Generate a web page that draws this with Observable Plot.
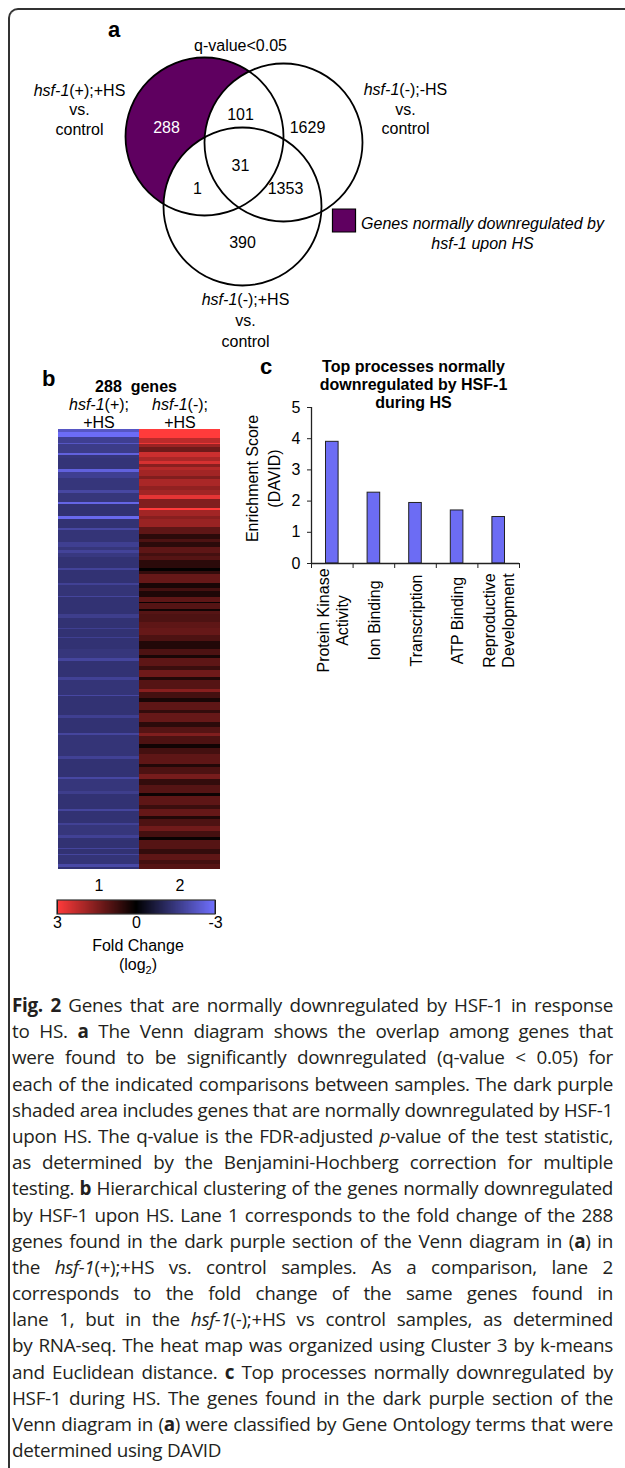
<!DOCTYPE html>
<html>
<head>
<meta charset="utf-8">
<script src="https://cdn.jsdelivr.net/npm/d3@7"></script>
<script src="https://cdn.jsdelivr.net/npm/@observablehq/plot@0.6"></script>
<style>
  html, body { margin: 0; padding: 0; background: #fff; }
  body { width: 625px; height: 1468px; overflow: hidden; position: relative; font-family: "Liberation Sans", Arial, sans-serif; color: #000; }
  #frame { position: absolute; left: 8px; top: 8px; width: 700px; height: 1500px; border-left: 2px solid #333; border-top: 2px solid #333; border-top-left-radius: 10px; box-sizing: border-box; }
  .abs { position: absolute; }
  .panel { position: absolute; font-weight: bold; font-size: 22px; line-height: 22px; }
  #foldlabel { position: absolute; left: 38px; top: 936px; width: 200px; text-align: center; font-size: 16px; line-height: 19px; }
  #caption { position: absolute; left: 12px; top: 992px; width: 601px; font-family: "Open Sans", sans-serif; font-size: 17px; letter-spacing: -0.3px; color: #231f20; }
  #caption div { white-space: nowrap; height: 26.2px; line-height: 26.2px; }
</style>
</head>
<body>
<div id="frame"></div>
<div class="panel" style="left:108px; top:19px;">a</div>
<div class="panel" style="left:42px; top:368px;">b</div>
<div class="panel" style="left:260px; top:356px;">c</div>
<div id="venn" class="abs" style="left:0; top:0; width:625px;"></div>
<div id="heat" class="abs" style="left:0; top:360px; width:240px;"></div>
<div id="bars" class="abs" style="left:230px; top:340px; width:320px;"></div>
<div id="ramp" class="abs" style="left:0; top:890px; width:240px;"></div>
<div id="foldlabel">Fold Change<br>(log<sub style="font-size:11px">2</sub>)</div>
<div id="caption"></div>
<script>
// ================= DATA =================
// Panel a: Venn diagram
const vennSetLabels = ["hsf-1(+);+HS\nvs.\ncontrol", "hsf-1(-);-HS\nvs.\ncontrol", "hsf-1(-);+HS\nvs.\ncontrol"];
const vennRegions = ["A", "AB", "B", "ABC", "AC", "BC", "C"];
const vennCounts = [288, 101, 1629, 31, 1, 1353, 390];
const vennHighlight = "A";
const vennThreshold = "q-value<0.05";
const vennLegendText = "Genes normally downregulated by\nhsf-1 upon HS";

// Panel b: heat map (log2 fold change), read as runs of [rows, value] top to bottom
const geneCount = 288;
const heatLanes = ["1", "2"];
const heatLaneHeaders = ["hsf-1(+);\n+HS", "hsf-1(-);\n+HS"];
const lane1Runs = [
  [2,-2.3],[3,-2.9],[4,-1.7],[1,-2.3],[6,-1.6],[1,-2.6],[2,-1.45],[7,-1.4],[2,-2.6],[4,-1.7],
  [8,-1.45],[2,-1.9],[6,-1.45],[1,-2.7],[8,-1.35],[2,-2.8],[6,-1.35],[1,-1.9],[8,-1.4],[3,-1.7],
  [2,-1.45],[2,-1.8],[3,-1.5],[7,-1.35],[1,-1.8],[9,-1.35],[1,-1.75],[7,-1.4],[1,-1.85],[11,-1.35],
  [3,-1.65],[6,-1.35],[1,-1.7],[5,-1.35],[1,-1.7],[7,-1.35],
  [6,-1.45],[2,-1.85],[10,-1.35],[2,-1.75],[10,-1.4],[1,-1.9],[12,-1.35],[2,-1.7],[10,-1.35],[1,-1.85],
  [14,-1.4],[2,-1.75],[12,-1.35],[1,-1.9],[8,-1.45],[2,-1.65],[10,-1.35],[1,-1.85],[8,-1.35],[1,-1.75],
  [7,-1.45],[2,-1.75],[6,-1.35],[1,-1.85],[3,-1.35],[1,-1.85],[6,-1.4],[2,-1.95],[1,-1.35]
];
const lane2Runs = [
  [6,3.0],[3,2.2],[1,2.8],[2,1.8],[3,1.3],[3,2.4],[3,2.0],[2,2.5],[2,1.6],[2,2.1],
  [4,1.9],[2,1.5],[4,2.0],[3,1.7],[3,1.9],[3,2.7],[6,1.5],[1,3.0],[4,1.9],[2,1.6],
  [5,1.8],[5,1.1],[3,0.5],[2,0.9],[3,0.5],[4,1.1],[2,0.8],[3,1.0],[5,0.5],[2,0.05],
  [2,0.6],[6,1.2],[3,0.3],[2,0.8],[4,0.35],[3,1.1],[1,0.1],[4,1.0],[1,0.2],[2,1.0],
  [5,0.9],[4,1.1],[5,1.2],[4,0.9],[5,0.4],
  [4,0.9],[2,0.3],[5,1.1],[3,0.7],[4,1.3],[2,0.4],[6,1.0],[2,1.6],[4,0.8],[3,0.3],
  [5,1.1],[2,0.6],[6,1.2],[3,0.5],[4,1.0],[2,1.5],[5,0.9],[3,0.2],[4,0.8],[6,1.1],
  [2,0.4],[5,0.9],[3,1.4],[4,0.6],[5,1.0],[2,0.15],[6,1.1],[3,0.7],[4,1.2],[2,0.4],
  [5,0.9],[3,1.3],[4,0.8],[2,0.1],[6,1.0],[3,0.6],[4,1.1],[3,0.8],[3,1.0]
];
const foldTicks = [3, 0, -3];

// Panel c: DAVID enrichment
const processes = ["Protein Kinase\nActivity", "Ion Binding", "Transcription", "ATP Binding", "Reproductive\nDevelopment"];
const enrichment = [3.9, 2.27, 1.94, 1.7, 1.49];
const enrichmentTicks = [0, 1, 2, 3, 4, 5];
const barTitle = "Top processes normally\ndownregulated by HSF-1\nduring HS";
const barYLabel = "Enrichment Score\n(DAVID)";

// ================= LAYOUT / STYLE =================
const FONT = "Liberation Sans, Arial, sans-serif";
const PURPLE = "#5f0060";
const RED = "#ff3b3b", BLUE = "#7070ff";
const vennLayout = {
  circles: { A: [204, 136], B: [283, 142], C: [242, 206] },
  radius: 79,
  regions: { A: [166, 127], AB: [240, 114], B: [307, 127], ABC: [240, 165], AC: [197, 188], BC: [285, 188], C: [242, 242] },
  setLabels: [[79, 108.5], [405, 108], [245, 319]],
  setLineHeights: [1.22, 1.22, 1.3],
  threshold: [240, 45],
  swatch: [343.5, 220],
  legend: [482, 232]
};

function italicizeHsf(svg) {
  d3.select(svg).selectAll("text, tspan").each(function () {
    if (this.childElementCount === 0 && this.textContent.includes("hsf-1")) {
      const t = this.textContent, k = t.indexOf("hsf-1");
      this.textContent = "";
      const s = d3.select(this);
      if (k > 0) s.append("tspan").text(t.slice(0, k));
      s.append("tspan").attr("font-style", "italic").text("hsf-1");
      s.append("tspan").text(t.slice(k + 5));
    }
  });
}

// ---------- Panel a ----------
const circles = ["A", "B", "C"].map(k => ({ key: k, cx: vennLayout.circles[k][0], cy: vennLayout.circles[k][1] }));
const regionData = vennRegions.map((k, i) => ({ key: k, n: vennCounts[i], x: vennLayout.regions[k][0], y: vennLayout.regions[k][1] }));
const setData = vennSetLabels.map((t, i) => ({ t, x: vennLayout.setLabels[i][0], y: vennLayout.setLabels[i][1], lh: vennLayout.setLineHeights[i] }));
const R = vennLayout.radius;

const venn = Plot.plot({
  width: 625, height: 360, margin: 0,
  x: { domain: [0, 625], range: [0, 625], axis: null },
  y: { domain: [0, 360], range: [0, 360], axis: null },
  style: { fontFamily: FONT, fontSize: "16px", background: "transparent", color: "#000" },
  marks: [
    Plot.dot(circles.filter(c => c.key === vennHighlight), { x: "cx", y: "cy", r: R, fill: PURPLE }),
    Plot.dot(circles.filter(c => c.key !== vennHighlight), { x: "cx", y: "cy", r: R, fill: "white" }),
    Plot.dot(circles, { x: "cx", y: "cy", r: R, fill: "none", stroke: "#000", strokeWidth: 1.8 }),
    Plot.text(regionData.filter(d => d.key !== vennHighlight), { x: "x", y: "y", text: d => String(d.n), fill: "#000", fontSize: 16 }),
    Plot.text(regionData.filter(d => d.key === vennHighlight), { x: "x", y: "y", text: d => String(d.n), fill: "#fff", fontSize: 16 }),
    ...setData.map(d => Plot.text([d], { x: "x", y: "y", text: "t", fontSize: 16, lineHeight: d.lh, lineAnchor: "middle", fill: "#000" })),
    Plot.text([vennThreshold], { x: () => vennLayout.threshold[0], y: () => vennLayout.threshold[1], text: d => d, fontSize: 16, fill: "#000" }),
    Plot.dot([vennLayout.swatch], { x: d => d[0], y: d => d[1], symbol: "square", r: 13, fill: PURPLE, stroke: "#000", strokeWidth: 1.2 }),
    Plot.text([vennLegendText], { x: () => vennLayout.legend[0], y: () => vennLayout.legend[1], text: d => d, fontSize: 16, fontStyle: "italic", lineHeight: 1.25, lineAnchor: "middle", fill: "#000" })
  ]
});
italicizeHsf(venn);
document.getElementById("venn").appendChild(venn);

// ---------- Panel b ----------
function expandRuns(runs) { const out = []; for (const [n, v] of runs) for (let k = 0; k < n; k++) out.push(v); return out; }
const laneValues = [expandRuns(lane1Runs), expandRuns(lane2Runs)];
const cells = [];
laneValues.forEach((vals, li) => vals.forEach((v, i) => cells.push({ lane: heatLanes[li], row: i, value: v })));

const heat = Plot.plot({
  width: 240, height: 539, marginLeft: 57, marginRight: 20, marginTop: 69, marginBottom: 30,
  x: { domain: heatLanes, padding: 0, label: null },
  y: { domain: d3.range(geneCount), padding: 0, axis: null },
  color: { type: "linear", domain: [-3, 0, 3], range: [BLUE, "#000", RED], interpolate: "rgb" },
  style: { fontFamily: FONT, fontSize: "16px", background: "transparent", color: "#000" },
  marks: [
    Plot.cell(cells, { x: "lane", y: "row", fill: "value", shapeRendering: "crispEdges" }),
    Plot.axisX({ anchor: "top", tickSize: 0, tickPadding: 2, tickFormat: d => heatLaneHeaders[heatLanes.indexOf(d)], fontSize: 16, lineHeight: 1.1, label: null }),
    Plot.axisX({ anchor: "bottom", tickSize: 0, tickPadding: 10, fontSize: 16, label: null }),
    Plot.text([`${geneCount}\u00a0 genes`], { frameAnchor: "top", dx: -3, dy: -38, lineAnchor: "bottom", text: d => d, fontWeight: "bold", fontSize: 16, fill: "#000" })
  ]
});
italicizeHsf(heat);
document.getElementById("heat").appendChild(heat);

const ramp = Plot.legend({
  color: { type: "linear", domain: [3, 0, -3], range: [RED, "#000", BLUE], interpolate: "rgb" },
  width: 240, height: 44, marginLeft: 57, marginRight: 25, marginTop: 10, marginBottom: 20,
  ticks: foldTicks, tickFormat: d => String(d), tickSize: 0, label: null,
  style: { fontSize: "16px", fontFamily: FONT, background: "transparent", color: "#000" }
});
{
  const img = d3.select(ramp).select("image");
  if (!img.empty()) {
    d3.select(ramp).append("rect")
      .attr("x", img.attr("x")).attr("y", img.attr("y"))
      .attr("width", img.attr("width")).attr("height", img.attr("height"))
      .attr("fill", "none").attr("stroke", "#333").attr("stroke-width", 1.2);
  }
}
document.getElementById("ramp").appendChild(ramp);

// ---------- Panel c ----------
const bars = processes.map((p, i) => ({ p, i, v: enrichment[i] }));
const barPlot = Plot.plot({
  width: 320, height: 360, marginLeft: 81, marginRight: 31, marginTop: 67, marginBottom: 137,
  x: { domain: [0, processes.length] },
  y: { domain: [enrichmentTicks[0], enrichmentTicks[enrichmentTicks.length - 1]] },
  style: { fontFamily: FONT, fontSize: "16px", background: "transparent", color: "#000" },
  marks: [
    Plot.rect(bars, { x1: "i", x2: d => d.i + 1, y1: 0, y2: "v", insetLeft: 14.5, insetRight: 14.5, fill: "#6c6cf4", stroke: "#222", strokeWidth: 1 }),
    Plot.ruleX([0], { stroke: "#222", strokeWidth: 1.3 }),
    Plot.ruleY([0], { stroke: "#222", strokeWidth: 1.3 }),
    Plot.axisY({ ticks: enrichmentTicks, tickSize: 4, tickPadding: 7, fontSize: 16, label: null, tickFormat: d => String(d), stroke: "#222" }),
    Plot.axisX({ ticks: bars.map(d => d.i).concat([processes.length]), tickSize: 5, tickFormat: () => "", label: null, stroke: "#222" }),
    Plot.text(bars, { x: d => d.i + 0.5, text: "p", frameAnchor: "bottom", dy: 57, rotate: -90, textAnchor: "middle", lineAnchor: "middle", fontSize: 16, lineHeight: 1.2, fill: "#000" }),
    Plot.text([barYLabel], { frameAnchor: "left", dx: -50, dy: -7, rotate: -90, text: d => d, textAnchor: "middle", lineAnchor: "middle", fontSize: 16, lineHeight: 1.375, fill: "#000" }),
    Plot.text([barTitle], { frameAnchor: "top", dx: -2, dy: 0, text: d => d, lineAnchor: "bottom", fontWeight: "bold", fontSize: 16, lineHeight: 1.12, fill: "#000" })
  ]
});
document.getElementById("bars").appendChild(barPlot);

// ---------- Caption ----------
const captionLines = [
  "<b>Fig. 2</b> Genes that are normally downregulated by HSF-1 in response",
  "to HS. <b>a</b> The Venn diagram shows the overlap among genes that",
  "were found to be significantly downregulated (q-value &lt; 0.05) for",
  "each of the indicated comparisons between samples. The dark purple",
  "shaded area includes genes that are normally downregulated by HSF-1",
  "upon HS. The q-value is the FDR-adjusted <i>p</i>-value of the test statistic,",
  "as determined by the Benjamini-Hochberg correction for multiple",
  "testing. <b>b</b> Hierarchical clustering of the genes normally downregulated",
  "by HSF-1 upon HS. Lane 1 corresponds to the fold change of the 288",
  "genes found in the dark purple section of the Venn diagram in (<b>a</b>) in",
  "the <i>hsf-1</i>(+);+HS vs. control samples. As a comparison, lane 2",
  "corresponds to the fold change of the same genes found in",
  "lane 1, but in the <i>hsf-1</i>(-);+HS vs control samples, as determined",
  "by RNA-seq. The heat map was organized using Cluster 3 by k-means",
  "and Euclidean distance. <b>c</b> Top processes normally downregulated by",
  "HSF-1 during HS. The genes found in the dark purple section of the",
  "Venn diagram in (<b>a</b>) were classified by Gene Ontology terms that were",
  "determined using DAVID"
];
const CAPTION_WIDTH = 601;
const cap = document.getElementById("caption");
const spans = captionLines.map(html => {
  const div = document.createElement("div");
  const span = document.createElement("span");
  span.innerHTML = html;
  div.appendChild(span);
  cap.appendChild(div);
  return span;
});
// size the caption font so that its widest line just fills the column, then justify
const widest = Math.max(...spans.map(s => s.getBoundingClientRect().width));
const baseSize = 17;
cap.style.fontSize = (baseSize * (CAPTION_WIDTH - 3) / widest) + "px";
spans.forEach((span, i) => {
  if (i === spans.length - 1) return;
  const natural = span.getBoundingClientRect().width;
  const spaces = (span.textContent.match(/ /g) || []).length;
  if (spaces > 0) span.style.wordSpacing = ((CAPTION_WIDTH - natural) / spaces) + "px";
});
</script>
</body>
</html>
